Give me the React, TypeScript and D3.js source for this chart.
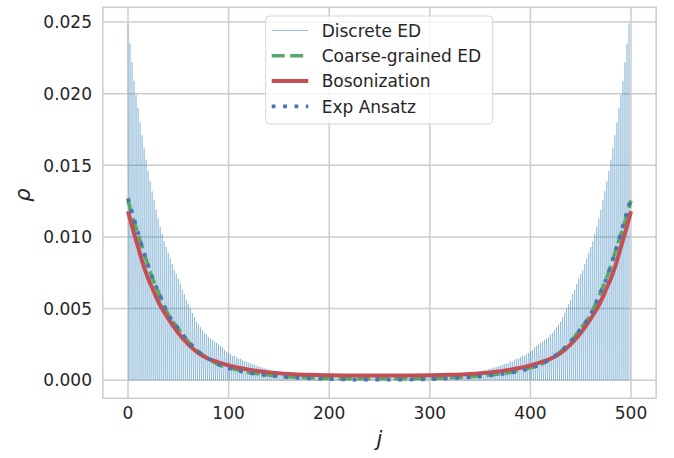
import * as d3 from "d3";

// discrete ED density, even sites j = 0, 2, ..., 500
const edEven = [
  0.0249, 0.0235, 0.0222, 0.0209, 0.0199, 0.019, 0.018, 0.0171, 0.0162, 0.0154,
  0.0146, 0.0139, 0.0132, 0.0126, 0.0119, 0.0113, 0.0107, 0.0102, 0.0097, 0.0093,
  0.0089, 0.0085, 0.0081, 0.0077, 0.0074, 0.0071, 0.0067, 0.0063, 0.006, 0.0056,
  0.0053, 0.005, 0.0047, 0.0044, 0.0041, 0.0039, 0.0037, 0.0035, 0.0033, 0.0032,
  0.003, 0.0029, 0.0028, 0.0027, 0.0026, 0.0025, 0.0024, 0.0023, 0.0021, 0.002,
  0.0019, 0.0018, 0.0017, 0.0017, 0.0016, 0.0015, 0.0015, 0.0014, 0.0013, 0.0013,
  0.0012, 0.00117, 0.00112, 0.00107, 0.00102, 0.00097, 0.00092, 0.00088, 0.00084, 0.0008,
  0.00076, 0.00073, 0.0007, 0.00067, 0.00064, 0.00061, 0.00058, 0.00056, 0.00053, 0.00051,
  0.00049, 0.00047, 0.00045, 0.00043, 0.00041, 0.00039, 0.00037, 0.00036, 0.00034, 0.00033,
  0.00032, 0.00031, 0.0003, 0.00029, 0.00028, 0.00027, 0.00026, 0.00025, 0.00024, 0.00024,
  0.00023, 0.00022, 0.00022, 0.00021, 0.00021, 0.0002, 0.0002, 0.0002, 0.0002, 0.00019,
  0.00019, 0.00019, 0.00019, 0.00019, 0.00019, 0.00018, 0.00018, 0.00018, 0.00018, 0.00018,
  0.00018, 0.00018, 0.00018, 0.00018, 0.00018, 0.00018,
  0.00018, 0.00018, 0.00018, 0.00018, 0.00018, 0.00018, 0.00018, 0.00018, 0.00018, 0.00019,
  0.00019, 0.00019, 0.00019, 0.00019, 0.00019, 0.0002, 0.0002, 0.0002, 0.0002, 0.00021,
  0.00021, 0.00022, 0.00022, 0.00023, 0.00024, 0.00024, 0.00025, 0.00026, 0.00027, 0.00028,
  0.00029, 0.0003, 0.00031, 0.00032, 0.00033, 0.00034, 0.00036, 0.00037, 0.00039, 0.00041,
  0.00043, 0.00045, 0.00047, 0.00049, 0.00051, 0.00053, 0.00056, 0.00058, 0.00061, 0.00064,
  0.00067, 0.0007, 0.00073, 0.00076, 0.0008, 0.00084, 0.00088, 0.00092, 0.00097, 0.00102,
  0.00107, 0.00112, 0.00117, 0.0012, 0.0013, 0.0013, 0.0014, 0.0015, 0.0015, 0.0016,
  0.0017, 0.0017, 0.0018, 0.0019, 0.002, 0.0021, 0.0023, 0.0024, 0.0025, 0.0026,
  0.0027, 0.0028, 0.0029, 0.003, 0.0032, 0.0033, 0.0035, 0.0037, 0.0039, 0.0041,
  0.0044, 0.0047, 0.005, 0.0053, 0.0056, 0.006, 0.0063, 0.0067, 0.0071, 0.0074,
  0.0077, 0.0081, 0.0085, 0.0089, 0.0093, 0.0097, 0.0102, 0.0107, 0.0113, 0.0119,
  0.0126, 0.0132, 0.0139, 0.0146, 0.0154, 0.0162, 0.0171, 0.018, 0.019, 0.0199,
  0.0209, 0.0222, 0.0235, 0.0249,
];

// discrete ED density, odd sites j = 1, 3, ..., 499
const edOdd = [
  0, 0, 0, 0, 0, 0, 0, 0, 0, 0, 0, 0, 0, 0, 0, 0, 0, 0, 0, 0, 0, 0, 0, 0, 0,
  0, 0, 0, 0, 0, 0, 0, 0, 0, 0, 0, 0, 0, 0, 0, 0, 0, 0, 0, 0, 0, 0, 0, 0, 0,
  0, 0, 0, 0, 0, 0, 0, 0, 0, 0, 0, 0, 0, 0, 0, 0, 0, 0, 0, 0, 0, 0, 0, 0, 0,
  0, 0, 0, 0, 0, 0, 0, 0, 0, 0, 0, 0, 0, 0, 0, 0, 0, 0, 0, 0, 0, 0, 0, 0, 0,
  0, 0, 0, 0, 0, 0, 0, 0, 0, 0, 0, 0, 0, 0, 0, 0, 0, 0, 0, 0, 0, 0, 0, 0, 0,
  0, 0, 0, 0, 0, 0, 0, 0, 0, 0, 0, 0, 0, 0, 0, 0, 0, 0, 0, 0, 0, 0, 0, 0, 0,
  0, 0, 0, 0, 0, 0, 0, 0, 0, 0, 0, 0, 0, 0, 0, 0, 0, 0, 0, 0, 0, 0, 0, 0, 0,
  0, 0, 0, 0, 0, 0, 0, 0, 0, 0, 0, 0, 0, 0, 0, 0, 0, 0, 0, 0, 0, 0, 0, 0, 0,
  0, 0, 0, 0, 0, 0, 0, 0, 0, 0, 0, 0, 0, 0, 0, 0, 0, 0, 0, 0, 0, 0, 0, 0, 0,
  0, 0, 0, 0, 0, 0, 0, 0, 0, 0, 0, 0, 0, 0, 0, 0, 0, 0, 0, 0, 0, 0, 0, 0, 0,
];

// smooth curves, sampled at these sites
const curveJ = [
  0, 5, 10, 15, 20, 25, 30, 40, 50, 60, 70, 80, 90, 100, 120, 140, 160, 180, 200, 225,
  250, 275, 300, 320, 340, 360, 380, 400, 410, 420, 430, 440, 450, 460, 470, 475, 480,
  485, 490, 495, 500,
];
const coarseED = [
  0.01255, 0.0113, 0.0102, 0.0091, 0.008, 0.007, 0.0062, 0.0046, 0.0036, 0.0027, 0.002,
  0.0015, 0.0011, 0.00088, 0.00055, 0.00037, 0.00025, 0.00018, 0.00013, 0.0001, 0.0001,
  0.0001, 0.00013, 0.00018, 0.00025, 0.00037, 0.00055, 0.00088, 0.0011, 0.0015, 0.002,
  0.0027, 0.0036, 0.0046, 0.0062, 0.007, 0.008, 0.0091, 0.0102, 0.0113, 0.01255,
];
const bosonization = [
  0.0118, 0.0105, 0.0093, 0.0081, 0.0071, 0.0063, 0.0055, 0.0043, 0.0033, 0.0025, 0.0019,
  0.0015, 0.00125, 0.00103, 0.00074, 0.00055, 0.00044, 0.00038, 0.00035, 0.00033, 0.00033,
  0.00033, 0.00035, 0.00038, 0.00044, 0.00055, 0.00074, 0.00103, 0.00125, 0.0015, 0.0019,
  0.0025, 0.0033, 0.0043, 0.0055, 0.0063, 0.0071, 0.0081, 0.0093, 0.0105, 0.0118,
];
const expAnsatz = [
  0.0127, 0.0115, 0.0103, 0.0091, 0.008, 0.007, 0.0062, 0.0046, 0.0036, 0.0027, 0.002,
  0.0015, 0.0011, 0.00085, 0.00052, 0.00034, 0.00022, 0.00014, 0.00008, 0.00005, 0.00004,
  0.00005, 0.00008, 0.00014, 0.00022, 0.00034, 0.00052, 0.00085, 0.0011, 0.0015, 0.002,
  0.0027, 0.0036, 0.0046, 0.0062, 0.007, 0.008, 0.0091, 0.0103, 0.0115, 0.0127,
];

const xTicks = [0, 100, 200, 300, 400, 500];
const yTicks = [0, 0.005, 0.01, 0.015, 0.02, 0.025];
const legendLabels = ["Discrete ED", "Coarse-grained ED", "Bosonization", "Exp Ansatz"];

const W = 674;
const H = 458;
const font = "'DejaVu Sans', sans-serif";
const ink = "#262626";
const gridColor = "#cccccc";

export default function App() {
  const x = d3.scaleLinear().domain([-25, 525]).range([102.85, 656.15]);
  const y = d3.scaleLinear().domain([-0.00126, 0.02603]).range([398.3, 7.3]);

  const discrete: [number, number][] = [];
  for (let j = 0; j <= 500; j++) {
    const v = j % 2 === 0 ? edEven[j / 2] : edOdd[(j - 1) / 2];
    discrete.push([j, v]);
  }
  const sharp = d3.line<[number, number]>().x(d => x(d[0])).y(d => y(d[1]));
  const smooth = (vals: number[]) =>
    d3.line<number>()
      .x((_, i) => x(curveJ[i]))
      .y(d => y(d))
      .curve(d3.curveMonotoneX)(vals) as string;

  const series = [
    { d: smooth(coarseED), color: "#55A868", width: 3.6, dash: "13,5.5" },
    { d: smooth(bosonization), color: "#C44E52", width: 4, dash: null },
    { d: smooth(expAnsatz), color: "#4C72B0", width: 3.8, dash: "3.8,7.6" },
  ];

  const [x0, x1] = x.range();
  const [y0, y1] = y.range();

  const legX = 265.7;
  const legY = 16;
  const rowY = (i: number) => 30.5 + i * 25.3;

  return (
    <svg width={W} height={H} style={{ position: "absolute", left: 0, top: 0 }}
      fontFamily={font}>
      <rect width={W} height={H} fill="#fff" />
      <defs>
        <clipPath id="plotClip">
          <rect x={x0} y={y1} width={x1 - x0} height={y0 - y1} />
        </clipPath>
      </defs>

      {/* grid */}
      {xTicks.map(t => (
        <line key={"gx" + t} x1={x(t)} x2={x(t)} y1={y1} y2={y0}
          stroke={gridColor} strokeWidth={1.5} />
      ))}
      {yTicks.map(t => (
        <line key={"gy" + t} x1={x0} x2={x1} y1={y(t)} y2={y(t)}
          stroke={gridColor} strokeWidth={1.5} />
      ))}

      <g clipPath="url(#plotClip)" fill="none">
        <path d={sharp(discrete) as string} stroke="#1f77b4" strokeOpacity={0.42}
          strokeWidth={0.75} />
        {series.map((s, i) => (
          <path key={i} d={s.d} stroke={s.color} strokeWidth={s.width}
            strokeDasharray={s.dash ?? undefined} />
        ))}
      </g>

      {/* frame */}
      <rect x={x0} y={y1} width={x1 - x0} height={y0 - y1} fill="none"
        stroke={gridColor} strokeWidth={1.5} />

      {/* tick labels */}
      {xTicks.map(t => (
        <text key={"tx" + t} x={x(t)} y={418.5} textAnchor="middle" fontSize={17}
          fill={ink}>{t}</text>
      ))}
      {yTicks.map(t => (
        <text key={"ty" + t} x={92} y={y(t) + 6.2} textAnchor="end" fontSize={17}
          fill={ink}>{d3.format(".3f")(t)}</text>
      ))}

      {/* axis labels */}
      <text x={(x0 + x1) / 2} y={446} textAnchor="middle" fontSize={21}
        fontStyle="italic" fill={ink}>j</text>
      <text transform={`translate(30,195) rotate(-90)`} textAnchor="middle" fontSize={21}
        fontStyle="italic" fill={ink}>ρ</text>

      {/* legend */}
      <rect x={legX} y={legY} width={227} height={108} rx={4} fill="#fff"
        fillOpacity={0.8} stroke="#d6d6d6" strokeWidth={1} />
      {legendLabels.map((label, i) => {
        const ry = rowY(i);
        const h = i === 0
          ? { color: "#1f77b4", width: 1, dash: null, op: 0.45 }
          : { ...series[i - 1], op: 1 };
        return (
          <g key={label}>
            <line x1={271.7} x2={308.3} y1={ry} y2={ry} stroke={h.color}
              strokeOpacity={h.op} strokeWidth={h.width}
              strokeDasharray={h.dash ?? undefined} />
            <text x={321.7} y={ry + 6.2} fontSize={17} fill={ink}>{label}</text>
          </g>
        );
      })}
    </svg>
  );
}
